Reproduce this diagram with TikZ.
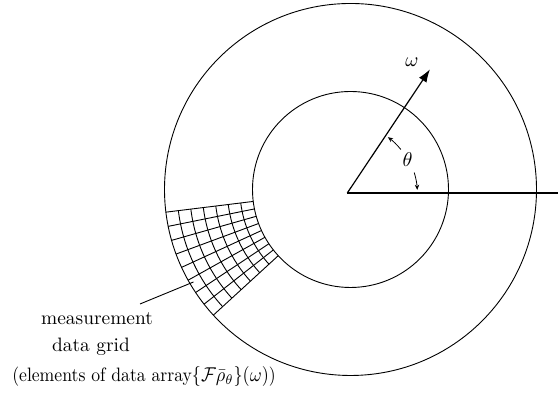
\documentclass[tikz,border=0pt]{standalone}
\usetikzlibrary{calc,arrows.meta}
\tikzset{
  ring/.style={line width=0.45pt},
  gridline/.style={line width=0.45pt},
  axis/.style={line width=0.6pt},
  bigtip/.style={-{Latex[length=6.5pt,width=4.5pt]}},
  smalltip/.style={-{Stealth[length=2.6pt,width=2.2pt]}, line width=0.4pt},
  lbl/.style={inner sep=0pt, font=\fontsize{9.7}{11}\selectfont},
}
\begin{document}
\begin{tikzpicture}[x=0.5pt,y=0.5pt]
\useasboundingbox (0,0) rectangle (558,394);
% centres
\coordinate (C) at (350.5,204.5);
\coordinate (O) at (347.3,201);
\coordinate (E) at (558,201);
\coordinate (W) at (430,324.7);
% circles
\draw[ring] (C) circle[radius=93pt];
\draw[ring] (C) circle[radius=49pt];
% measurement grid
\foreach \k in {0,...,8} {
  \pgfmathsetmacro\a{187+\k*35.5/8}
  \draw[gridline] ($(C)+(\a:49pt)$) -- ($(C)+(\a:93pt)$);
}
\foreach \k in {1,...,6} {
  \pgfmathsetmacro\r{49+\k*44/7}
  \draw[gridline] ($(C)+(187:\r pt)$) arc[start angle=187, end angle=222.5, radius=\r pt];
}
% axes
\draw[axis] (O) -- (E);
\draw[axis, bigtip] (O) -- (W);
% angle arrows
\draw[smalltip] ($(O)+(39:34.5pt)$) arc[start angle=39, end angle=54, radius=34.5pt];
\draw[smalltip] ($(O)+(17:35pt)$) arc[start angle=17, end angle=2.5, radius=35pt];
% labels
\node[lbl] (omega) at (412,332) {$\omega$};
\node[lbl] (theta) at (407.7,234) {$\theta$};
% leader
\coordinate (L1) at (140,90);
\coordinate (L2) at (193.5,112);
\draw[gridline] (L1) -- (L2);
\node[lbl, anchor=base] (t1) at (97,69) {measurement};
\node[lbl, anchor=base] (t2) at (91,42.3) {data grid};
\node[lbl, anchor=base] (t3) at (144,12.3) {\scalebox{0.91}[1]{(elements of data array$\{\mathcal{F}\bar{\rho}_\theta\}(\omega)$)}};
\end{tikzpicture}
\end{document}
